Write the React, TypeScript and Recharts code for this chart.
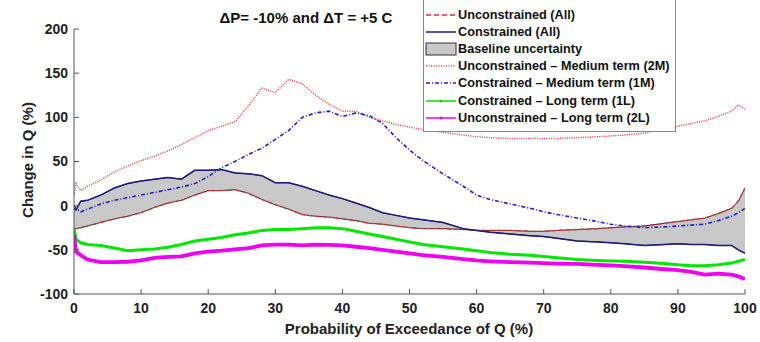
import { ComposedChart, Line, Area, XAxis, YAxis } from "recharts"

const probability = [0, 0.3, 1, 2, 4, 6, 8, 10, 12, 14, 16, 18, 20, 22, 24, 26, 28, 30, 32, 34, 36, 38, 40, 42, 44, 46, 48, 50, 52, 55, 58, 60, 62, 65, 68, 70, 72, 75, 78, 80, 82, 85, 88, 90, 92, 94, 96, 98, 99, 100]

const unconstrainedAll = [-28, -26, -25, -23, -19, -15, -12, -8, -2, 3, 6, 12, 17, 17, 18, 14, 7, 1, -4, -10, -12, -13, -15, -17, -20, -21, -23, -25, -26, -26, -27, -28, -28, -28, -29, -29, -28, -27, -26, -25, -24, -23, -20, -18, -16, -14, -9, -3, 5, 20]
const constrainedAll = [-3, -5, 5, 6, 12, 20, 25, 28, 30, 32, 30, 40, 40, 41, 37, 36, 34, 26, 26, 22, 17, 12, 8, 3, -2, -8, -11, -14, -16, -19, -26, -28, -30, -32, -34, -35, -37, -40, -41, -42, -43, -45, -44, -43, -44, -44, -45, -45, -50, -54]
const unconstrainedMedium = [12, 25, 17, 22, 29, 38, 45, 51, 56, 62, 69, 77, 85, 90, 95, 113, 133, 128, 143, 138, 125, 115, 107, 107, 100, 96, 92, 89, 86, 83, 80, 78, 77, 76, 76, 76, 76, 77, 78, 79, 80, 82, 87, 90, 93, 96, 101, 107, 114, 109]
const constrainedMedium = [0, -3, -7, -4, 2, 6, 9, 12, 15, 18, 21, 25, 33, 43, 50, 58, 65, 75, 85, 100, 105, 107, 101, 105, 102, 93, 77, 63, 51, 36, 22, 12, 7, 2, -3, -7, -10, -14, -18, -21, -23, -25, -24, -23, -22, -21, -17, -12, -8, -3]
const constrainedLong = [-25, -38, -42, -44, -45, -48, -51, -50, -49, -47, -44, -40, -38, -36, -33, -31, -28, -27, -27, -26, -25, -25, -26, -29, -32, -35, -38, -41, -44, -46.5, -49, -51, -53, -55, -56, -57.5, -59, -61, -62, -62.5, -63, -64, -65.5, -67, -68, -68, -67, -65, -63, -61]
const unconstrainedLong = [-33, -52, -56, -61, -64, -64, -63.5, -62, -59, -58, -57.5, -54, -52, -51, -49.5, -48, -45, -44, -44, -45, -44, -44.5, -45, -46.5, -48, -50, -52, -54, -56, -58, -60.5, -62, -63, -64, -64.5, -65, -65.5, -66, -67, -67.5, -68.5, -70, -72, -73, -75, -78, -77, -78, -80, -83]

const xTicks = [0, 10, 20, 30, 40, 50, 60, 70, 80, 90, 100]
const yTicks = [-100, -50, 0, 50, 100, 150, 200]

const data = probability.map((p, i) => ({
  p,
  uAll: unconstrainedAll[i],
  cAll: constrainedAll[i],
  band: [Math.min(unconstrainedAll[i], constrainedAll[i]), Math.max(unconstrainedAll[i], constrainedAll[i])],
  u2M: unconstrainedMedium[i],
  c1M: constrainedMedium[i],
  c1L: constrainedLong[i],
  u2L: unconstrainedLong[i],
}))

const font = "'Liberation Sans', Arial, sans-serif"
const axisColor = "#555"
const gridColor = "#e4e4e4"

const legendItems = [
  { label: "Unconstrained (All)", color: "#e83030", dash: "5 3", width: 1.5, kind: "line" },
  { label: "Constrained (All)", color: "#1a1a80", dash: "", width: 1.5, kind: "line" },
  { label: "Baseline uncertainty", color: "#c8c8c8", dash: "", width: 1, kind: "patch" },
  { label: "Unconstrained \u2013 Medium term (2M)", color: "#e04040", dash: "1 1.5", width: 1.3, kind: "line" },
  { label: "Constrained \u2013 Medium term (1M)", color: "#2020d0", dash: "4 2 1 2", width: 1.5, kind: "line" },
  { label: "Constrained \u2013 Long term (1L)", color: "#00e000", dash: "", width: 1.5, kind: "marker" },
  { label: "Unconstrained \u2013 Long term (2L)", color: "#f000f0", dash: "", width: 1.5, kind: "marker" },
]

function LegendBox() {
  return (
    <div
      style={{
        position: "absolute",
        left: 423,
        top: -3,
        width: 251,
        background: "#fff",
        border: "1px solid #888",
        padding: "8px 0 5px 0",
        fontFamily: font,
        fontWeight: "bold",
        fontSize: 12.7,
        color: "#111",
      }}
    >
      {legendItems.map((it) => (
        <div key={it.label} style={{ display: "flex", alignItems: "center", height: 17.2 }}>
          <svg width={34} height={14} style={{ flex: "none" }}>
            {it.kind === "patch" ? (
              <rect x={2} y={1} width={30} height={12} fill={it.color} stroke="#333" strokeWidth={1} />
            ) : (
              <line x1={2} y1={7} x2={32} y2={7} stroke={it.color} strokeWidth={it.width} strokeDasharray={it.dash || undefined} />
            )}
            {it.kind === "marker" && <circle cx={17} cy={7} r={1.6} fill={it.color} />}
          </svg>
          <span style={{ whiteSpace: "nowrap" }}>{it.label}</span>
        </div>
      ))}
    </div>
  )
}

export default function App() {
  return (
    <div style={{ position: "absolute", left: 0, top: 0, width: 760, height: 342, background: "#fff", overflow: "hidden" }}>
      <ComposedChart width={760} height={342} data={data} margin={{ top: 29, right: 15, bottom: 0, left: 0 }}>
        {/* light grid drawn with long tick lines of two hidden axes */}
        <XAxis xAxisId="gridX" orientation="top" type="number" domain={[0, 100]} ticks={xTicks.slice(1, -1)} height={0} axisLine={false} tickSize={-265} tickLine={{ stroke: gridColor }} tickFormatter={() => ""} />
        <YAxis yAxisId="gridY" orientation="right" type="number" domain={[-100, 200]} ticks={yTicks.slice(1, -1)} width={0} axisLine={false} tickSize={-671} tickLine={{ stroke: gridColor }} tickFormatter={() => ""} />
        <XAxis
          dataKey="p"
          type="number"
          domain={[0, 100]}
          ticks={xTicks}
          height={48}
          stroke={axisColor}
          tickSize={-5}
          tickMargin={14}
          tick={{ fill: "#222", fontSize: 14, fontWeight: "bold", fontFamily: font }}
          allowDataOverflow
        />
        <XAxis xAxisId="top" orientation="top" type="number" domain={[0, 100]} ticks={xTicks} height={0} stroke={axisColor} tickSize={-5} tickFormatter={() => ""} />
        <YAxis
          type="number"
          domain={[-100, 200]}
          ticks={yTicks}
          width={74}
          stroke={axisColor}
          tickSize={-5}
          tickMargin={11}
          tick={{ fill: "#222", fontSize: 14, fontWeight: "bold", fontFamily: font }}
          allowDataOverflow
        />
        <YAxis yAxisId="right" orientation="right" type="number" domain={[-100, 200]} ticks={yTicks} width={0} stroke={axisColor} tickSize={-5} tickFormatter={() => ""} />
        <Area dataKey="band" type="linear" fill="#c8c8c8" fillOpacity={1} stroke="#3a2a2a" strokeWidth={1} isAnimationActive={false} />
        <Line dataKey="uAll" type="linear" stroke="#d83030" strokeWidth={1.3} strokeDasharray="4 3" dot={false} isAnimationActive={false} />
        <Line dataKey="cAll" type="linear" stroke="#1a1a80" strokeWidth={1.5} dot={false} isAnimationActive={false} />
        <Line dataKey="u2M" type="linear" stroke="#e03a3a" strokeWidth={1.5} strokeDasharray="1 1.3" dot={false} isAnimationActive={false} />
        <Line dataKey="c1M" type="linear" stroke="#2020d0" strokeWidth={1.6} strokeDasharray="4 2 1 2" dot={false} isAnimationActive={false} />
        <Line dataKey="c1L" type="linear" stroke="#00e800" strokeWidth={3} dot={false} isAnimationActive={false} />
        <Line dataKey="u2L" type="linear" stroke="#f000f0" strokeWidth={3.8} dot={false} isAnimationActive={false} />
      </ComposedChart>
      <div style={{ position: "absolute", left: 306, top: 9, transform: "translateX(-50%)", whiteSpace: "nowrap", fontFamily: font, fontWeight: "bold", fontSize: 15, color: "#111" }}>
        {"\u0394P= -10% and \u0394T = +5 C"}
      </div>
      <div style={{ position: "absolute", left: 409, top: 320, transform: "translateX(-50%)", whiteSpace: "nowrap", fontFamily: font, fontWeight: "bold", fontSize: 15, color: "#222" }}>
        Probability of Exceedance of Q (%)
      </div>
      <div style={{ position: "absolute", left: 27, top: 160, transform: "translate(-50%, -50%) rotate(-90deg)", whiteSpace: "nowrap", fontFamily: font, fontWeight: "bold", fontSize: 15, color: "#222" }}>
        Change in Q (%)
      </div>
      <LegendBox />
    </div>
  )
}
